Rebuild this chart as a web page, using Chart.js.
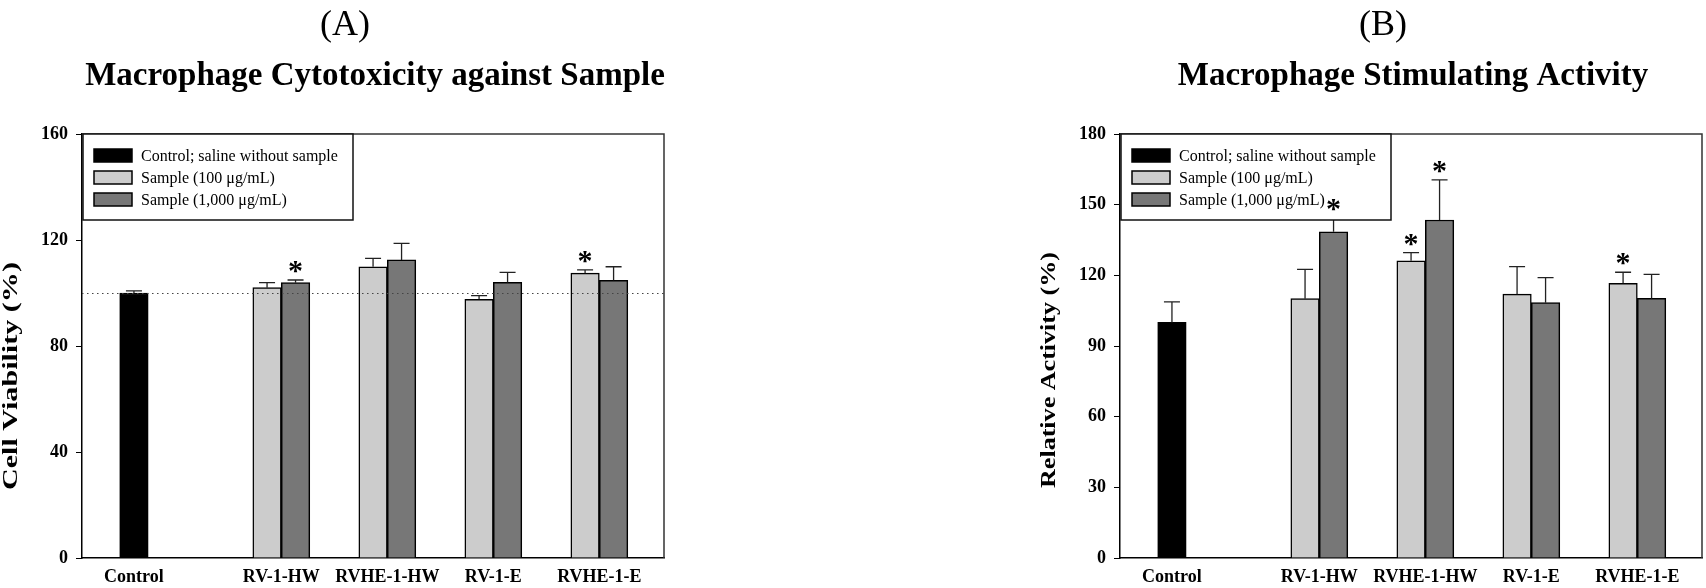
<!DOCTYPE html>
<html>
<head>
<meta charset="utf-8">
<script src="https://cdn.jsdelivr.net/npm/chart.js@4.4.1/dist/chart.umd.min.js"></script>
<style>
  body { margin: 0; background: #fff; }
  canvas { position: absolute; top: 0; }
  #chartA { left: 0; }
  #chartB { left: 1038px; }
</style>
</head>
<body>
<canvas id="chartA" width="700" height="588"></canvas>
<canvas id="chartB" width="668" height="588"></canvas>
<script>
// ---- data ----
const categories = ['Control', 'RV-1-HW', 'RVHE-1-HW', 'RV-1-E', 'RVHE-1-E'];
const seriesNames = ['Control; saline without sample', 'Sample (100 \u03bcg/mL)', 'Sample (1,000 \u03bcg/mL)'];

// (A) cell viability, %
const controlA = [100, null, null, null, null];
const lowA     = [null, 102.0, 109.9, 97.6, 107.5];
const highA    = [null, 103.9, 112.5, 104.0, 104.8];
const controlErrA = [0.8, null, null, null, null];
const lowErrA     = [null, 1.9, 3.2, 1.4, 1.2];
const highErrA    = [null, 1.0, 6.2, 3.8, 5.1];
const controlSigA = [false, false, false, false, false];
const lowSigA     = [false, false, false, false, true];
const highSigA    = [false, true, false, false, false];
const ticksA = [0, 40, 80, 120, 160];

// (B) relative activity, %
const controlB = [100, null, null, null, null];
const lowB     = [null, 110.1, 126.2, 112.0, 116.6];
const highB    = [null, 138.5, 143.5, 108.4, 110.2];
const controlErrB = [8.7, null, null, null, null];
const lowErrB     = [null, 12.4, 3.4, 11.7, 4.7];
const highErrB    = [null, 6.0, 17.0, 10.6, 10.2];
const controlSigB = [false, false, false, false, false];
const lowSigB     = [false, false, true, false, true];
const highSigB    = [false, true, true, false, false];
const ticksB = [0, 30, 60, 90, 120, 150, 180];

const SERIF = "'Liberation Serif', 'Times New Roman', serif";
const colors = ['#000000', '#cccccc', '#777777'];

// control sits alone, then the four sample groups one unit apart
function xPos(i) { return i === 0 ? 0 : i + 0.39; }

function makeSet(k, values, errors, sig) {
  return {
    label: seriesNames[k],
    data: values.map((v, i) => ({ x: xPos(i), y: v })),
    errors: errors,
    sig: sig,
    backgroundColor: colors[k],
    borderColor: '#000',
    borderWidth: 1.5,
    barThickness: 28.5,
    skipNull: true
  };
}

const decorations = {
  id: 'decorations',
  afterDatasetsDraw(chart, args, opts) {
    const { ctx, chartArea: a, scales: { y } } = chart;
    ctx.save();

    // dotted reference line
    if (opts.refLine != null) {
      const ry = Math.round(y.getPixelForValue(opts.refLine)) + 0.5;
      ctx.setLineDash([1.5, 3.5]);
      ctx.strokeStyle = '#444';
      ctx.lineWidth = 1;
      ctx.beginPath();
      ctx.moveTo(a.left, ry);
      ctx.lineTo(a.right, ry);
      ctx.stroke();
      ctx.setLineDash([]);
    }

    // upper error bars
    ctx.strokeStyle = '#222';
    ctx.lineWidth = 1.3;
    chart.data.datasets.forEach((ds, di) => {
      const meta = chart.getDatasetMeta(di);
      ds.data.forEach((pt, i) => {
        if (pt.y == null || ds.errors[i] == null) return;
        const bx = meta.data[i].x;
        const y0 = y.getPixelForValue(pt.y);
        const y1 = y.getPixelForValue(pt.y + ds.errors[i]);
        ctx.beginPath();
        ctx.moveTo(bx, y0);
        ctx.lineTo(bx, y1);
        ctx.moveTo(bx - 8, y1);
        ctx.lineTo(bx + 8, y1);
        ctx.stroke();
      });
    });

    // frame: top and right
    ctx.strokeStyle = '#333';
    ctx.lineWidth = 1.5;
    ctx.beginPath();
    ctx.moveTo(a.left, a.top);
    ctx.lineTo(a.right, a.top);
    ctx.lineTo(a.right, a.bottom);
    ctx.stroke();

    // legend box in the upper left corner
    const lx = a.left + 1, ly = a.top, lw = 270, lh = 86;
    ctx.fillStyle = '#fff';
    ctx.fillRect(lx, ly, lw, lh);
    ctx.strokeStyle = '#111';
    ctx.lineWidth = 1.5;
    ctx.strokeRect(lx, ly, lw, lh);
    ctx.font = '16px ' + SERIF;
    ctx.textAlign = 'left';
    ctx.textBaseline = 'alphabetic';
    chart.data.datasets.forEach((ds, k) => {
      const cy = ly + 21.5 + 22 * k;
      ctx.fillStyle = ds.backgroundColor;
      ctx.fillRect(lx + 11, cy - 6.5, 38, 13);
      ctx.strokeStyle = '#000';
      ctx.lineWidth = 1.5;
      ctx.strokeRect(lx + 11, cy - 6.5, 38, 13);
      ctx.fillStyle = '#000';
      ctx.fillText(ds.label, lx + 58, cy + 5.3);
    });

    // significance stars
    ctx.font = 'bold 30px ' + SERIF;
    ctx.textAlign = 'center';
    const m = ctx.measureText('*');
    const shift = (m.actualBoundingBoxAscent - m.actualBoundingBoxDescent) / 2;
    chart.data.datasets.forEach((ds, di) => {
      const meta = chart.getDatasetMeta(di);
      ds.data.forEach((pt, i) => {
        if (!ds.sig[i] || pt.y == null) return;
        const cy = y.getPixelForValue(pt.y + (ds.errors[i] || 0)) - 13;
        ctx.fillText('*', meta.data[i].x, cy + shift);
      });
    });
    ctx.restore();
  },
  afterDraw(chart, args, opts) {
    const { ctx, chartArea: a } = chart;
    const cx = (a.left + a.right) / 2;
    ctx.save();
    ctx.fillStyle = '#000';
    ctx.textAlign = 'center';
    ctx.textBaseline = 'alphabetic';
    ctx.font = '36px ' + SERIF;
    ctx.fillText(opts.panel, cx - 28, 35);
    ctx.font = 'bold 33px ' + SERIF;
    ctx.fillText(opts.title, cx + 2, 85);

    // y axis title, stretched along its length like the original
    ctx.font = 'bold 20px ' + SERIF;
    const w = ctx.measureText(opts.yTitle).width;
    ctx.translate(a.left - 70, opts.yTitleMid);
    ctx.rotate(-Math.PI / 2);
    ctx.scale(opts.yTitleLen / w, 1);
    ctx.textBaseline = 'middle';
    ctx.fillText(opts.yTitle, 0, 0);
    ctx.restore();
  }
};

function buildChart(id, sets, yTicks, yTitle, panel, title, refLine, rightPad, yTitleLen, yTitleMid) {
  new Chart(document.getElementById(id), {
    type: 'bar',
    data: { datasets: sets },
    plugins: [decorations],
    options: {
      responsive: false,
      animation: false,
      devicePixelRatio: 1,
      layout: { padding: { top: 134, left: 0, right: rightPad, bottom: 0 } },
      plugins: {
        legend: { display: false },
        tooltip: { enabled: false },
        decorations: {
          panel: panel, title: title, yTitle: yTitle, refLine: refLine,
          yTitleLen: yTitleLen, yTitleMid: yTitleMid
        }
      },
      scales: {
        x: {
          type: 'linear',
          min: -0.49,
          max: 5.0,
          offset: false,
          grid: { display: false, drawTicks: false },
          border: { color: '#000', width: 1.5 },
          afterBuildTicks: (scale) => { scale.ticks = categories.map((c, i) => ({ value: xPos(i) })); },
          afterFit: (scale) => { scale.height = 30; },
          ticks: {
            autoSkip: false,
            maxRotation: 0,
            padding: 9,
            color: '#000',
            font: { family: SERIF, size: 18, weight: 'bold' },
            callback: (v, i) => categories[i]
          }
        },
        y: {
          min: 0,
          max: yTicks[yTicks.length - 1],
          grid: { drawOnChartArea: false, drawTicks: true, tickLength: 6, color: '#000', lineWidth: 1 },
          border: { color: '#000', width: 1.5 },
          afterBuildTicks: (scale) => { scale.ticks = yTicks.map(v => ({ value: v })); },
          afterFit: (scale) => { scale.width = 82; },
          ticks: {
            padding: 8,
            color: '#000',
            font: { family: SERIF, size: 18, weight: 'bold' }
          }
        }
      }
    }
  });
}

buildChart('chartA', [
  makeSet(0, controlA, controlErrA, controlSigA),
  makeSet(1, lowA, lowErrA, lowSigA),
  makeSet(2, highA, highErrA, highSigA)
], ticksA, 'Cell Viability (%)', '(A)', 'Macrophage Cytotoxicity against Sample', 100, 36, 228, 376);

buildChart('chartB', [
  makeSet(0, controlB, controlErrB, controlSigB),
  makeSet(1, lowB, lowErrB, lowSigB),
  makeSet(2, highB, highErrB, highSigB)
], ticksB, 'Relative Activity (%)', '(B)', 'Macrophage Stimulating Activity', null, 4, 236, 370);
</script>
</body>
</html>
